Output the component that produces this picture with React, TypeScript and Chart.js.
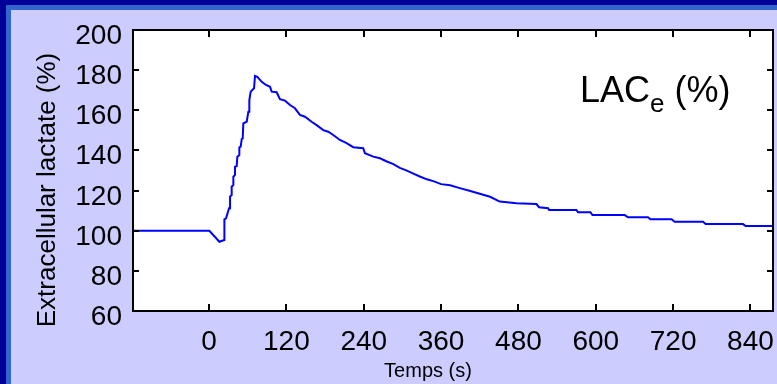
import React, { useEffect, useRef } from "react";
import { Chart, registerables } from "chart.js";

Chart.register(...registerables);

// Time after stimulation onset (s) at each corner of the recorded trace
const timeSeconds = [
  -118, 0.5, 16, 23.8, 23.8, 26.4, 31, 32.6, 32.6, 35.1, 35.1, 37.7, 37.7, 40.3, 40.3, 42.9,
  43.9, 47, 47, 49.1, 50.7, 52.2, 53.2, 58.4, 61, 62.5, 62.5, 64.6, 69.8, 71.3, 74.9, 81.7,
  88.4, 94.6, 97.2, 104.9, 110, 117.8, 125.6, 133.3, 141, 148.8, 159.1, 166.9, 177.2, 184.9,
  192.7, 203, 213.4, 223.7, 239.2, 241.9, 254.8, 265.1, 275, 286, 296, 306, 317, 327, 338,
  349, 360, 374, 389, 404, 420, 436, 451, 477, 508, 512, 526, 527.6, 570, 572.6, 591.7, 594.9,
  645, 650, 681, 684.8, 717.4, 722.5, 766.4, 770.5, 828.4, 832.6, 875,
];

// Extracellular lactate relative to baseline (%)
const lactatePercent = [
  100, 100, 94.5, 95.4, 105.7, 106.2, 111.2, 111.2, 117, 117.8, 121.9, 122.8, 126.9, 127.8, 131.9, 132.2,
  136.9, 137.7, 141.5, 141.9, 145.7, 146, 153.5, 154.3, 159.3, 159.3, 165.1, 169.3, 171, 177.1, 176.7, 174.2,
  172.6, 171.7, 169.3, 169, 165.5, 164.8, 162.6, 161, 157.7, 156.8, 154.3, 152.6, 150.1, 149.3,
  147.7, 145.2, 143.6, 141.6, 141.1, 138.6, 136.9, 136.1, 134.6, 133.2, 131.3, 130.1, 128.4, 127, 125.6,
  124.6, 123.2, 122.6, 121.2, 119.9, 118.4, 116.9, 114.5, 113.7, 113.3, 111.7, 111.2, 110.3, 110.3, 109.2, 109.2, 107.8,
  107.8, 106.7, 106.7, 105.7, 105.7, 104.5, 104.5, 103.3, 103.3, 102.3, 102.3,
];

const xTickValues = [0, 120, 240, 360, 480, 600, 720, 840];
const yTickValues = [60, 80, 100, 120, 140, 160, 180, 200];

const xTitle = "Temps (s)";
const yTitle = "Extracellular lactate (%)";
const seriesName = "LAC";
const seriesSubscript = "e";
const seriesUnit = " (%)";

const FONT = '"Liberation Sans", Arial, Helvetica, sans-serif';
const SLIDE_BG = "#ccccff";

const slidePlugin = {
  id: "slideFrame",
  beforeDraw(chart: any) {
    const { ctx, width, height, chartArea: a } = chart;
    ctx.save();
    ctx.fillStyle = SLIDE_BG;
    ctx.fillRect(0, 0, width, height);
    // navy band with a lighter inner stripe along the top and left edges
    ctx.fillStyle = "#000099";
    ctx.fillRect(0, 0, width, 5);
    ctx.fillRect(0, 0, 6, height);
    ctx.fillStyle = "#3366cc";
    ctx.fillRect(6, 5, width - 6, 5);
    ctx.fillRect(6, 5, 5, height - 5);
    // white plotting area
    ctx.fillStyle = "#ffffff";
    ctx.fillRect(a.left, a.top, a.right - a.left, a.bottom - a.top);
    ctx.restore();
  },
  afterDraw(chart: any) {
    const { ctx, width, height, chartArea: a, scales } = chart;
    const xs = scales.x;
    const ys = scales.y;
    ctx.save();

    // box around the plot with inward ticks on all four sides
    ctx.strokeStyle = "#000000";
    ctx.lineWidth = 2;
    ctx.strokeRect(a.left, a.top, a.right - a.left, a.bottom - a.top);
    ctx.beginPath();
    for (const v of xTickValues) {
      const px = Math.round(xs.getPixelForValue(v));
      ctx.moveTo(px, a.bottom);
      ctx.lineTo(px, a.bottom - 7);
      ctx.moveTo(px, a.top);
      ctx.lineTo(px, a.top + 7);
    }
    for (const v of yTickValues) {
      const py = Math.round(ys.getPixelForValue(v));
      ctx.moveTo(a.left, py);
      ctx.lineTo(a.left + 6, py);
      ctx.moveTo(a.right, py);
      ctx.lineTo(a.right - 6, py);
    }
    ctx.stroke();

    // slide margin to the right of the plot box
    ctx.fillStyle = SLIDE_BG;
    ctx.fillRect(a.right + 1, 10, width - a.right - 1, height - 10);

    // tick labels
    ctx.fillStyle = "#000000";
    ctx.font = `28px ${FONT}`;
    ctx.textBaseline = "alphabetic";
    ctx.textAlign = "right";
    for (const v of yTickValues) {
      const py = ys.getPixelForValue(v);
      ctx.fillText(String(v), a.left - 11, py + 14);
    }
    ctx.textAlign = "center";
    for (const v of xTickValues) {
      const px = xs.getPixelForValue(v);
      ctx.fillText(String(v), px, a.bottom + 39);
    }

    // axis titles
    ctx.font = `20px ${FONT}`;
    ctx.textAlign = "center";
    ctx.fillText(xTitle, 428, 377);

    ctx.save();
    ctx.translate(55, 190);
    ctx.rotate(-Math.PI / 2);
    ctx.font = `26px ${FONT}`;
    ctx.textAlign = "center";
    ctx.fillText(yTitle, 0, 0);
    ctx.restore();

    // series label with subscript
    ctx.textAlign = "left";
    let lx = 580;
    ctx.font = `36px ${FONT}`;
    ctx.fillText(seriesName, lx, 102);
    lx += ctx.measureText(seriesName).width;
    ctx.font = `26px ${FONT}`;
    ctx.fillText(seriesSubscript, lx, 112);
    lx += ctx.measureText(seriesSubscript).width;
    ctx.font = `36px ${FONT}`;
    ctx.fillText(seriesUnit, lx, 102);

    ctx.restore();
  },
};

export default function App() {
  const canvasRef = useRef<HTMLCanvasElement | null>(null);

  useEffect(() => {
    document.body.style.margin = "0";
    document.body.style.overflow = "hidden";
    document.body.style.background = SLIDE_BG;
    document.documentElement.style.overflow = "hidden";
    document.documentElement.style.background = SLIDE_BG;
    const canvas = canvasRef.current;
    if (!canvas) return;
    const points = timeSeconds.map((t, i) => ({ x: t, y: lactatePercent[i] }));
    const chart = new Chart(canvas, {
      type: "line",
      data: {
        datasets: [
          {
            label: seriesName,
            data: points,
            borderColor: "#0000ff",
            borderWidth: 2,
            pointRadius: 0,
            tension: 0,
            fill: false,
          },
        ],
      },
      options: {
        responsive: false,
        animation: false,
        devicePixelRatio: 1,
        layout: { padding: { left: 133, top: 30, right: 4, bottom: 73 } },
        plugins: {
          legend: { display: false },
          tooltip: { enabled: false },
        },
        scales: {
          x: { type: "linear", min: -118, max: 875, display: false },
          y: { type: "linear", min: 60, max: 200, display: false },
        },
      },
      plugins: [slidePlugin],
    });
    return () => chart.destroy();
  }, []);

  return (
    <div style={{ width: 777, height: 384, overflow: "hidden" }}>
      <canvas ref={canvasRef} width={777} height={384} style={{ display: "block" }} />
    </div>
  );
}
